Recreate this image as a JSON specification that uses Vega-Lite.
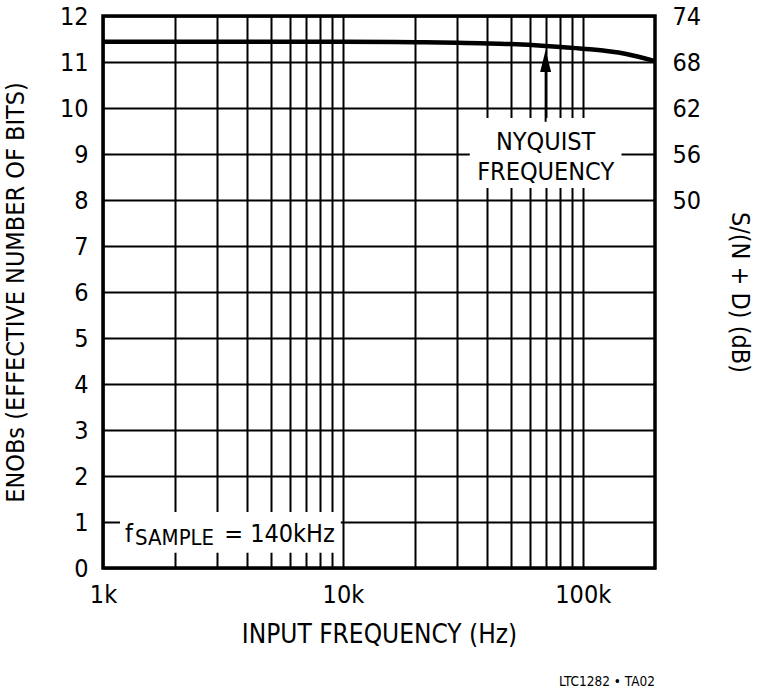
{
  "$schema": "https://vega.github.io/schema/vega-lite/v6.json",
  "width": 552,
  "height": 552,
  "autosize": {"type": "none"},
  "padding": {"left": 103, "top": 16, "right": 105, "bottom": 125},
  "background": "white",
  "title": {
    "text": "LTC1282 • TA02",
    "orient": "bottom",
    "anchor": "end",
    "frame": "group",
    "fontSize": 13.5,
    "fontWeight": "normal",
    "font": "DejaVu Sans Condensed, Liberation Sans, sans-serif",
    "color": "black",
    "dx": 0,
    "offset": 28
  },
  "datasets": {
    "curve": [
      {"freq": 1000, "enob": 11.44},
      {"freq": 3000, "enob": 11.44},
      {"freq": 10000, "enob": 11.44},
      {"freq": 20000, "enob": 11.43},
      {"freq": 30000, "enob": 11.42},
      {"freq": 50000, "enob": 11.39},
      {"freq": 70000, "enob": 11.35},
      {"freq": 100000, "enob": 11.29},
      {"freq": 150000, "enob": 11.18},
      {"freq": 200000, "enob": 11.02}
    ],
    "boxes": [
      {"f1": 33800, "f2": 145000, "e1": 8.26, "e2": 9.78},
      {"f1": 1177, "f2": 9800, "e1": 0.33, "e2": 1.22}
    ],
    "centerText": [
      {"freq": 70000, "enob": 9.09, "label": "NYQUIST"},
      {"freq": 70000, "enob": 8.44, "label": "FREQUENCY"}
    ],
    "leftText": [
      {"freq": 1235, "enob": 0.565, "label": "f"},
      {"freq": 3200, "enob": 0.565, "label": "= 140kHz"}
    ],
    "subText": [
      {"freq": 1360, "enob": 0.50, "label": "SAMPLE"}
    ],
    "arrow": [
      {"freq": 70000, "low": 9.70, "high": 11.0, "tip": 11.02}
    ]
  },
  "encoding": {
    "x": {
      "field": "freq",
      "type": "quantitative",
      "scale": {"type": "log", "domain": [1000, 200000], "nice": false},
      "axis": {
        "title": "INPUT FREQUENCY (Hz)",
        "values": [1000, 2000, 3000, 4000, 5000, 6000, 7000, 8000, 9000, 10000, 20000, 30000, 40000, 50000, 60000, 70000, 80000, 90000, 100000],
        "labelExpr": "datum.value == 1000 ? '1k' : datum.value == 10000 ? '10k' : datum.value == 100000 ? '100k' : ''",
        "labelFlush": false,
        "labelOverlap": false,
        "labelPadding": 14,
        "titlePadding": 14,
        "titleFontSize": 26
      }
    }
  },
  "layer": [
    {
      "data": {"name": "boxes"},
      "mark": {"type": "rect", "fill": "white", "stroke": null},
      "encoding": {
        "x": {"field": "f1", "type": "quantitative"},
        "x2": {"field": "f2"},
        "y": {
          "field": "e1",
          "type": "quantitative",
          "scale": {"domain": [0, 12], "nice": false},
          "axis": {
            "title": "ENOBs (EFFECTIVE NUMBER OF BITS)",
            "values": [0, 1, 2, 3, 4, 5, 6, 7, 8, 9, 10, 11, 12],
            "labelPadding": 15,
            "titlePadding": 31
          }
        },
        "y2": {"field": "e2"}
      }
    },
    {
      "data": {"name": "curve"},
      "mark": {"type": "line", "color": "black", "strokeWidth": 4.5, "interpolate": "monotone"},
      "encoding": {
        "y": {"field": "enob", "type": "quantitative", "axis": null}
      }
    },
    {
      "data": {"name": "arrow"},
      "mark": {"type": "rule", "color": "black", "strokeWidth": 2},
      "encoding": {
        "y": {
          "field": "low",
          "type": "quantitative",
          "axis": {
            "orient": "right",
            "title": "S/(N + D) (dB)",
            "values": [8, 9, 10, 11, 12],
            "labelExpr": "format(datum.value * 6 + 2, 'd')",
            "grid": false,
            "labelPadding": 17,
            "titlePadding": 26
          }
        },
        "y2": {"field": "high"}
      }
    },
    {
      "data": {"name": "arrow"},
      "mark": {"type": "point", "shape": "M0,-1L0.5,1L-0.5,1Z", "size": 484, "filled": true, "color": "black", "opacity": 1},
      "encoding": {
        "y": {"field": "tip", "type": "quantitative", "axis": null}
      }
    },
    {
      "data": {"name": "centerText"},
      "mark": {"type": "text", "align": "center", "baseline": "alphabetic", "fontSize": 25, "color": "black"},
      "encoding": {
        "y": {"field": "enob", "type": "quantitative", "axis": null},
        "text": {"field": "label"}
      }
    },
    {
      "data": {"name": "leftText"},
      "mark": {"type": "text", "align": "left", "baseline": "alphabetic", "fontSize": 25, "color": "black"},
      "encoding": {
        "y": {"field": "enob", "type": "quantitative", "axis": null},
        "text": {"field": "label"}
      }
    },
    {
      "data": {"name": "subText"},
      "mark": {"type": "text", "align": "left", "baseline": "alphabetic", "fontSize": 22, "color": "black"},
      "encoding": {
        "y": {"field": "enob", "type": "quantitative", "axis": null},
        "text": {"field": "label"}
      }
    }
  ],
  "resolve": {"scale": {"y": "shared"}, "axis": {"y": "independent"}},
  "config": {
    "font": "DejaVu Sans Condensed, Liberation Sans, sans-serif",
    "text": {"font": "DejaVu Sans Condensed, Liberation Sans, sans-serif"},
    "view": {"stroke": "black", "strokeWidth": 3.5},
    "axis": {
      "grid": true,
      "gridColor": "black",
      "gridWidth": 2,
      "gridOpacity": 1,
      "ticks": false,
      "domain": false,
      "labelFont": "DejaVu Sans Condensed, Liberation Sans, sans-serif",
      "labelFontSize": 25,
      "labelColor": "black",
      "titleFont": "DejaVu Sans Condensed, Liberation Sans, sans-serif",
      "titleFontSize": 25,
      "titleFontWeight": "normal",
      "titleColor": "black"
    }
  }
}
